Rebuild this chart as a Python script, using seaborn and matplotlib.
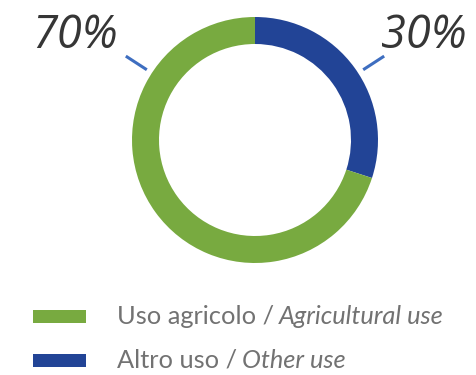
import numpy as np
import matplotlib
matplotlib.use("Agg")
import matplotlib.pyplot as plt
from matplotlib.patches import Rectangle
import seaborn as sns

# ---- data ----
categories = ["Altro uso", "Uso agricolo"]
labels_it = ["Altro uso", "Uso agricolo"]
labels_en = ["Other use", "Agricultural use"]
values = [30, 70]
pct_labels = ["30%", "70%"]
colors = ["#224496", "#78AA40"]

sns.set_theme(style="white")
plt.rcParams["font.family"] = ["Open Sans", "DejaVu Sans"]

W, H = 477, 375
fig = plt.figure(figsize=(W / 100, H / 100), dpi=100)
ax = fig.add_axes([0, 0, 1, 1])

cx, cy, R = 255, H - 140, 123
ax.pie(values, colors=colors, startangle=90, counterclock=False,
       center=(cx, cy), radius=R, frame=True,
       wedgeprops=dict(width=27, linewidth=0))
ax.set_xlim(0, W)
ax.set_ylim(0, H)
ax.set_aspect("equal")
ax.axis("off")

# leader lines and percentage labels
line_col = "#3E6EC0"
label_angles = [33, 147]
for ang, txt in zip(label_angles, pct_labels):
    a = np.deg2rad(ang)
    ax.plot([cx + 129 * np.cos(a), cx + 154 * np.cos(a)],
            [cy + 129 * np.sin(a), cy + 154 * np.sin(a)],
            color=line_col, lw=2.2, solid_capstyle="butt")
    kw = dict(va="baseline", fontsize=32.5, style="italic", color="#363636",
              fontweight="normal")
    if np.cos(a) > 0:
        ax.text(381, H - 48, txt, ha="left", **kw)
    else:
        ax.text(118, H - 48, txt, ha="right", **kw)

# legend
fam = ["Lato", "DejaVu Sans"]
tcol = "#727272"
rows = [(1, 316.5), (0, 360.5)]
fig.canvas.draw()
for idx, yc in rows:
    ax.add_patch(Rectangle((33, H - yc - 6.5), 53, 13, color=colors[idx], lw=0))
    y = H - yc - 7
    t1 = ax.text(117, y, labels_it[idx] + " /", ha="left", va="baseline",
                 fontsize=18.3, color=tcol, family=fam)
    bb = t1.get_window_extent(renderer=fig.canvas.get_renderer())
    x2 = bb.x1 + 5
    ax.text(x2, y, labels_en[idx], ha="left", va="baseline", fontsize=18.3,
            color=tcol, style="italic", family=fam)

fig.savefig("out.png", dpi=100, facecolor="white")
